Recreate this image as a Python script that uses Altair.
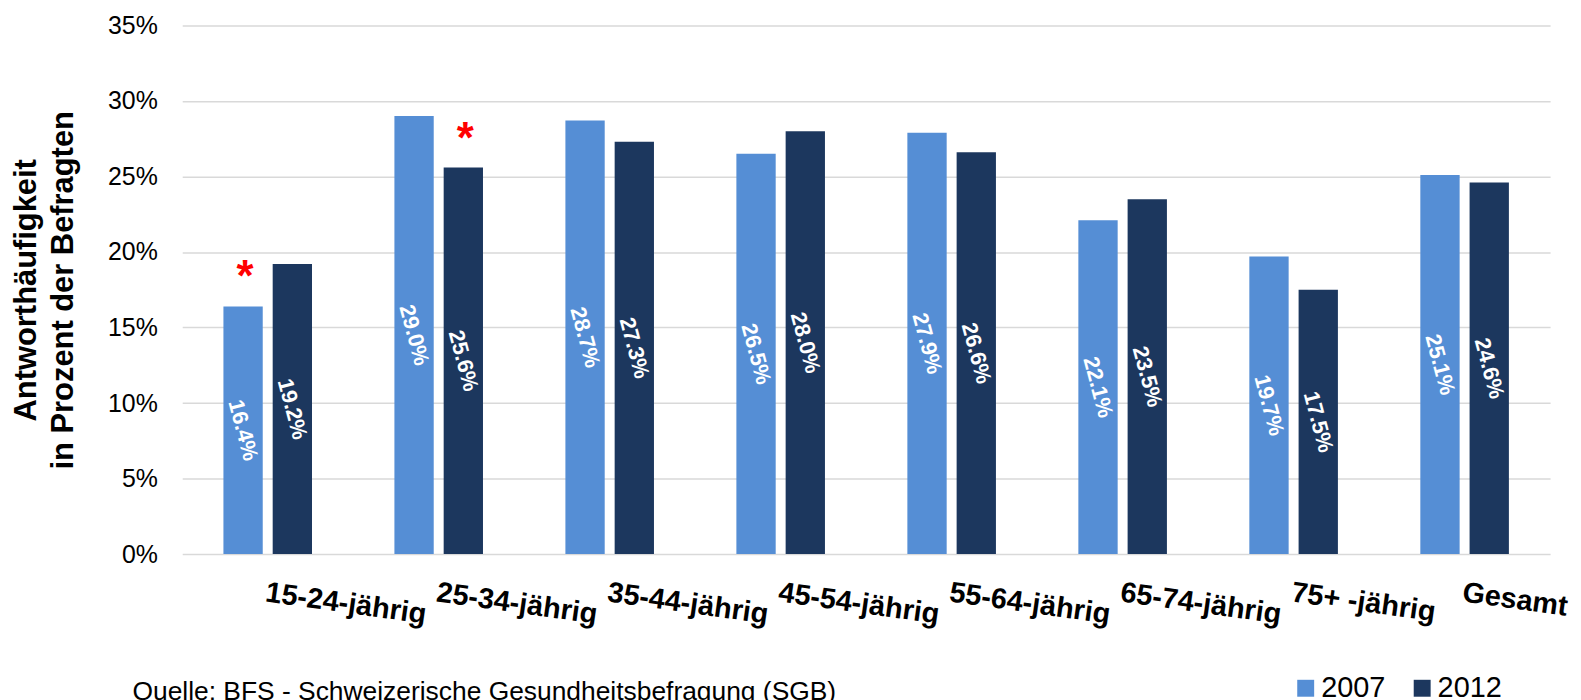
import altair as alt
import pandas as pd

categories = ["15-24-jährig", "25-34-jährig", "35-44-jährig", "45-54-jährig",
              "55-64-jährig", "65-74-jährig", "75+ -jährig", "Gesamt"]
years = ["2007", "2012"]
values_2007 = [16.4, 29.0, 28.7, 26.5, 27.9, 22.1, 19.7, 25.1]
values_2012 = [19.2, 25.6, 27.3, 28.0, 26.6, 23.5, 17.5, 24.6]
star_2007 = [True, False, False, False, False, False, False, False]
star_2012 = [False, True, False, False, False, False, False, False]
colors = ["#558ED5", "#1C375E"]
y_ticks = [0, 0.05, 0.10, 0.15, 0.20, 0.25, 0.30, 0.35]
y_title = ["Antworthäufigkeit", "in Prozent der Befragten"]
source_text = "Quelle: BFS - Schweizerische Gesundheitsbefragung (SGB)"

FONT = "Liberation Sans, Arial, sans-serif"

rows = []
for i, c in enumerate(categories):
    rows.append({"cat": c, "year": years[0], "value": values_2007[i] / 100,
                 "star": "*" if star_2007[i] else ""})
    rows.append({"cat": c, "year": years[1], "value": values_2012[i] / 100,
                 "star": "*" if star_2012[i] else ""})
df = pd.DataFrame(rows)

x_enc = alt.X(
    "cat:N", sort=categories,
    scale=alt.Scale(paddingInner=0.482, paddingOuter=0.241),
    axis=alt.Axis(title=None, labelAngle=8, labelAlign="left", labelBaseline="top",
                  labelFont=FONT, labelFontSize=29, labelFontWeight="bold",
                  labelColor="#000000", labelPadding=24, ticks=False, tickSize=0,
                  domain=False, labelLimit=400, labelOverlap=False, labelBound=False,
                  grid=False),
)
xo_enc = alt.XOffset("year:N", sort=years,
                     scale=alt.Scale(paddingInner=0.202, paddingOuter=0))

y_scale = alt.Scale(domain=[0, 0.35], nice=False, zero=True)

base = alt.Chart(df)

bars = base.mark_bar().encode(
    x=x_enc,
    xOffset=xo_enc,
    y=alt.Y("value:Q", scale=y_scale,
            axis=alt.Axis(values=y_ticks, format=".0%", title=y_title,
                          titleFont=FONT, titleFontSize=31, titleFontWeight="bold",
                          titleColor="#000000", titleLineHeight=37,
                          titleAngle=-90, titleBaseline="top", titleAlign="center",
                          titleX=-171,
                          labelFont=FONT, labelFontSize=25, labelColor="#000000",
                          labelPadding=25, ticks=False, tickSize=0, domain=False,
                          grid=True, gridColor="#D9D9D9", gridWidth=1.5)),
    color=alt.Color("year:N", sort=years,
                    scale=alt.Scale(domain=years, range=colors),
                    legend=alt.Legend(title=None, orient="none", direction="horizontal",
                                      legendX=1114, legendY=651, padding=0,
                                      symbolType="square", symbolSize=289,
                                      symbolStrokeWidth=0, labelFont=FONT,
                                      labelFontSize=29, labelColor="#000000",
                                      labelOffset=1, columnPadding=22)),
)

labels = base.transform_calculate(mid="datum.value / 2").mark_text(
    angle=75, color="white", font=FONT, fontSize=22, fontWeight="bold",
    align="center", baseline="middle",
).encode(
    x=alt.X("cat:N", sort=categories),
    xOffset=alt.XOffset("year:N", sort=years),
    y=alt.Y("mid:Q", scale=y_scale),
    text=alt.Text("value:Q", format=".1%"),
)

stars = base.transform_filter("datum.star != ''").mark_text(
    color="#FF0000", font=FONT, fontSize=44, fontWeight="bold",
    align="center", baseline="alphabetic", dy=-15, dx=2,
).encode(
    x=alt.X("cat:N", sort=categories),
    xOffset=alt.XOffset("year:N", sort=years),
    y=alt.Y("value:Q", scale=y_scale),
    text="star:N",
)

source = alt.Chart(pd.DataFrame({"t": [source_text]})).mark_text(
    align="left", baseline="alphabetic", font=FONT, fontSize=26.5, color="#000000",
).encode(
    x=alt.value(-50),
    y=alt.value(678),
    text="t:N",
)

chart = alt.layer(bars, labels, stars, source).properties(
    width=1374, height=531,
    autosize=alt.AutoSizeParams(type="none"),
    padding={"left": 175, "top": 16, "right": 23, "bottom": 145},
    background="white",
).configure_view(stroke=None)

chart.save("out.html", embed_options={"renderer": "svg", "actions": False})
